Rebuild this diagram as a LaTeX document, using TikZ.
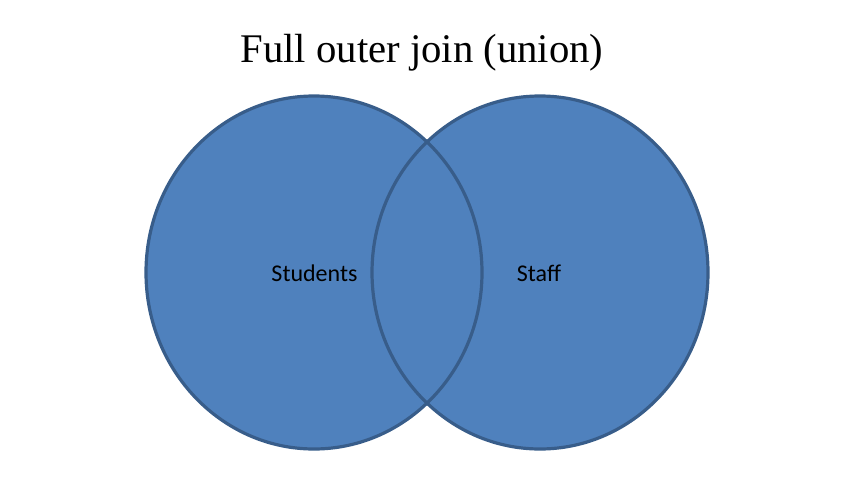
\documentclass[tikz,border=0pt]{standalone}
\usepackage{fontspec}
\setmainfont{Liberation Serif}
\newfontfamily\labelfont{Carlito}
\usetikzlibrary{shapes.geometric}
\definecolor{vennfill}{HTML}{4F81BD}
\definecolor{vennline}{HTML}{385D8A}
\tikzset{
  setshape/.style={ellipse, inner sep=0pt, minimum width=336pt, minimum height=353pt, fill=vennfill, draw=none},
  setline/.style={draw=vennline, line width=3.2pt},
  setlabel/.style={font=\labelfont\fontsize{24}{28}\selectfont, text=black, inner sep=0pt},
  titlestyle/.style={font=\fontsize{40.7}{46}\selectfont, text=black, inner sep=0pt, anchor=base}
}
\begin{document}
\begin{tikzpicture}[x=1pt,y=-1pt]
\useasboundingbox (0,0) rectangle (866,496);
\node[titlestyle] (title) at (422,62) {Full outer join (union)};
\node[setshape] (students) at (314,272.5) {};
\node[setshape] (staff) at (540,272.5) {};
\draw[setline] (students.center) ellipse [x radius=168pt, y radius=176.5pt];
\draw[setline] (staff.center) ellipse [x radius=168pt, y radius=176.5pt];
\node[setlabel, anchor=base] (studentslabel) at (314.5,281.5) {Students};
\node[setlabel, anchor=base] (stafflabel) at (539,281.5) {Staff};
\end{tikzpicture}
\end{document}
